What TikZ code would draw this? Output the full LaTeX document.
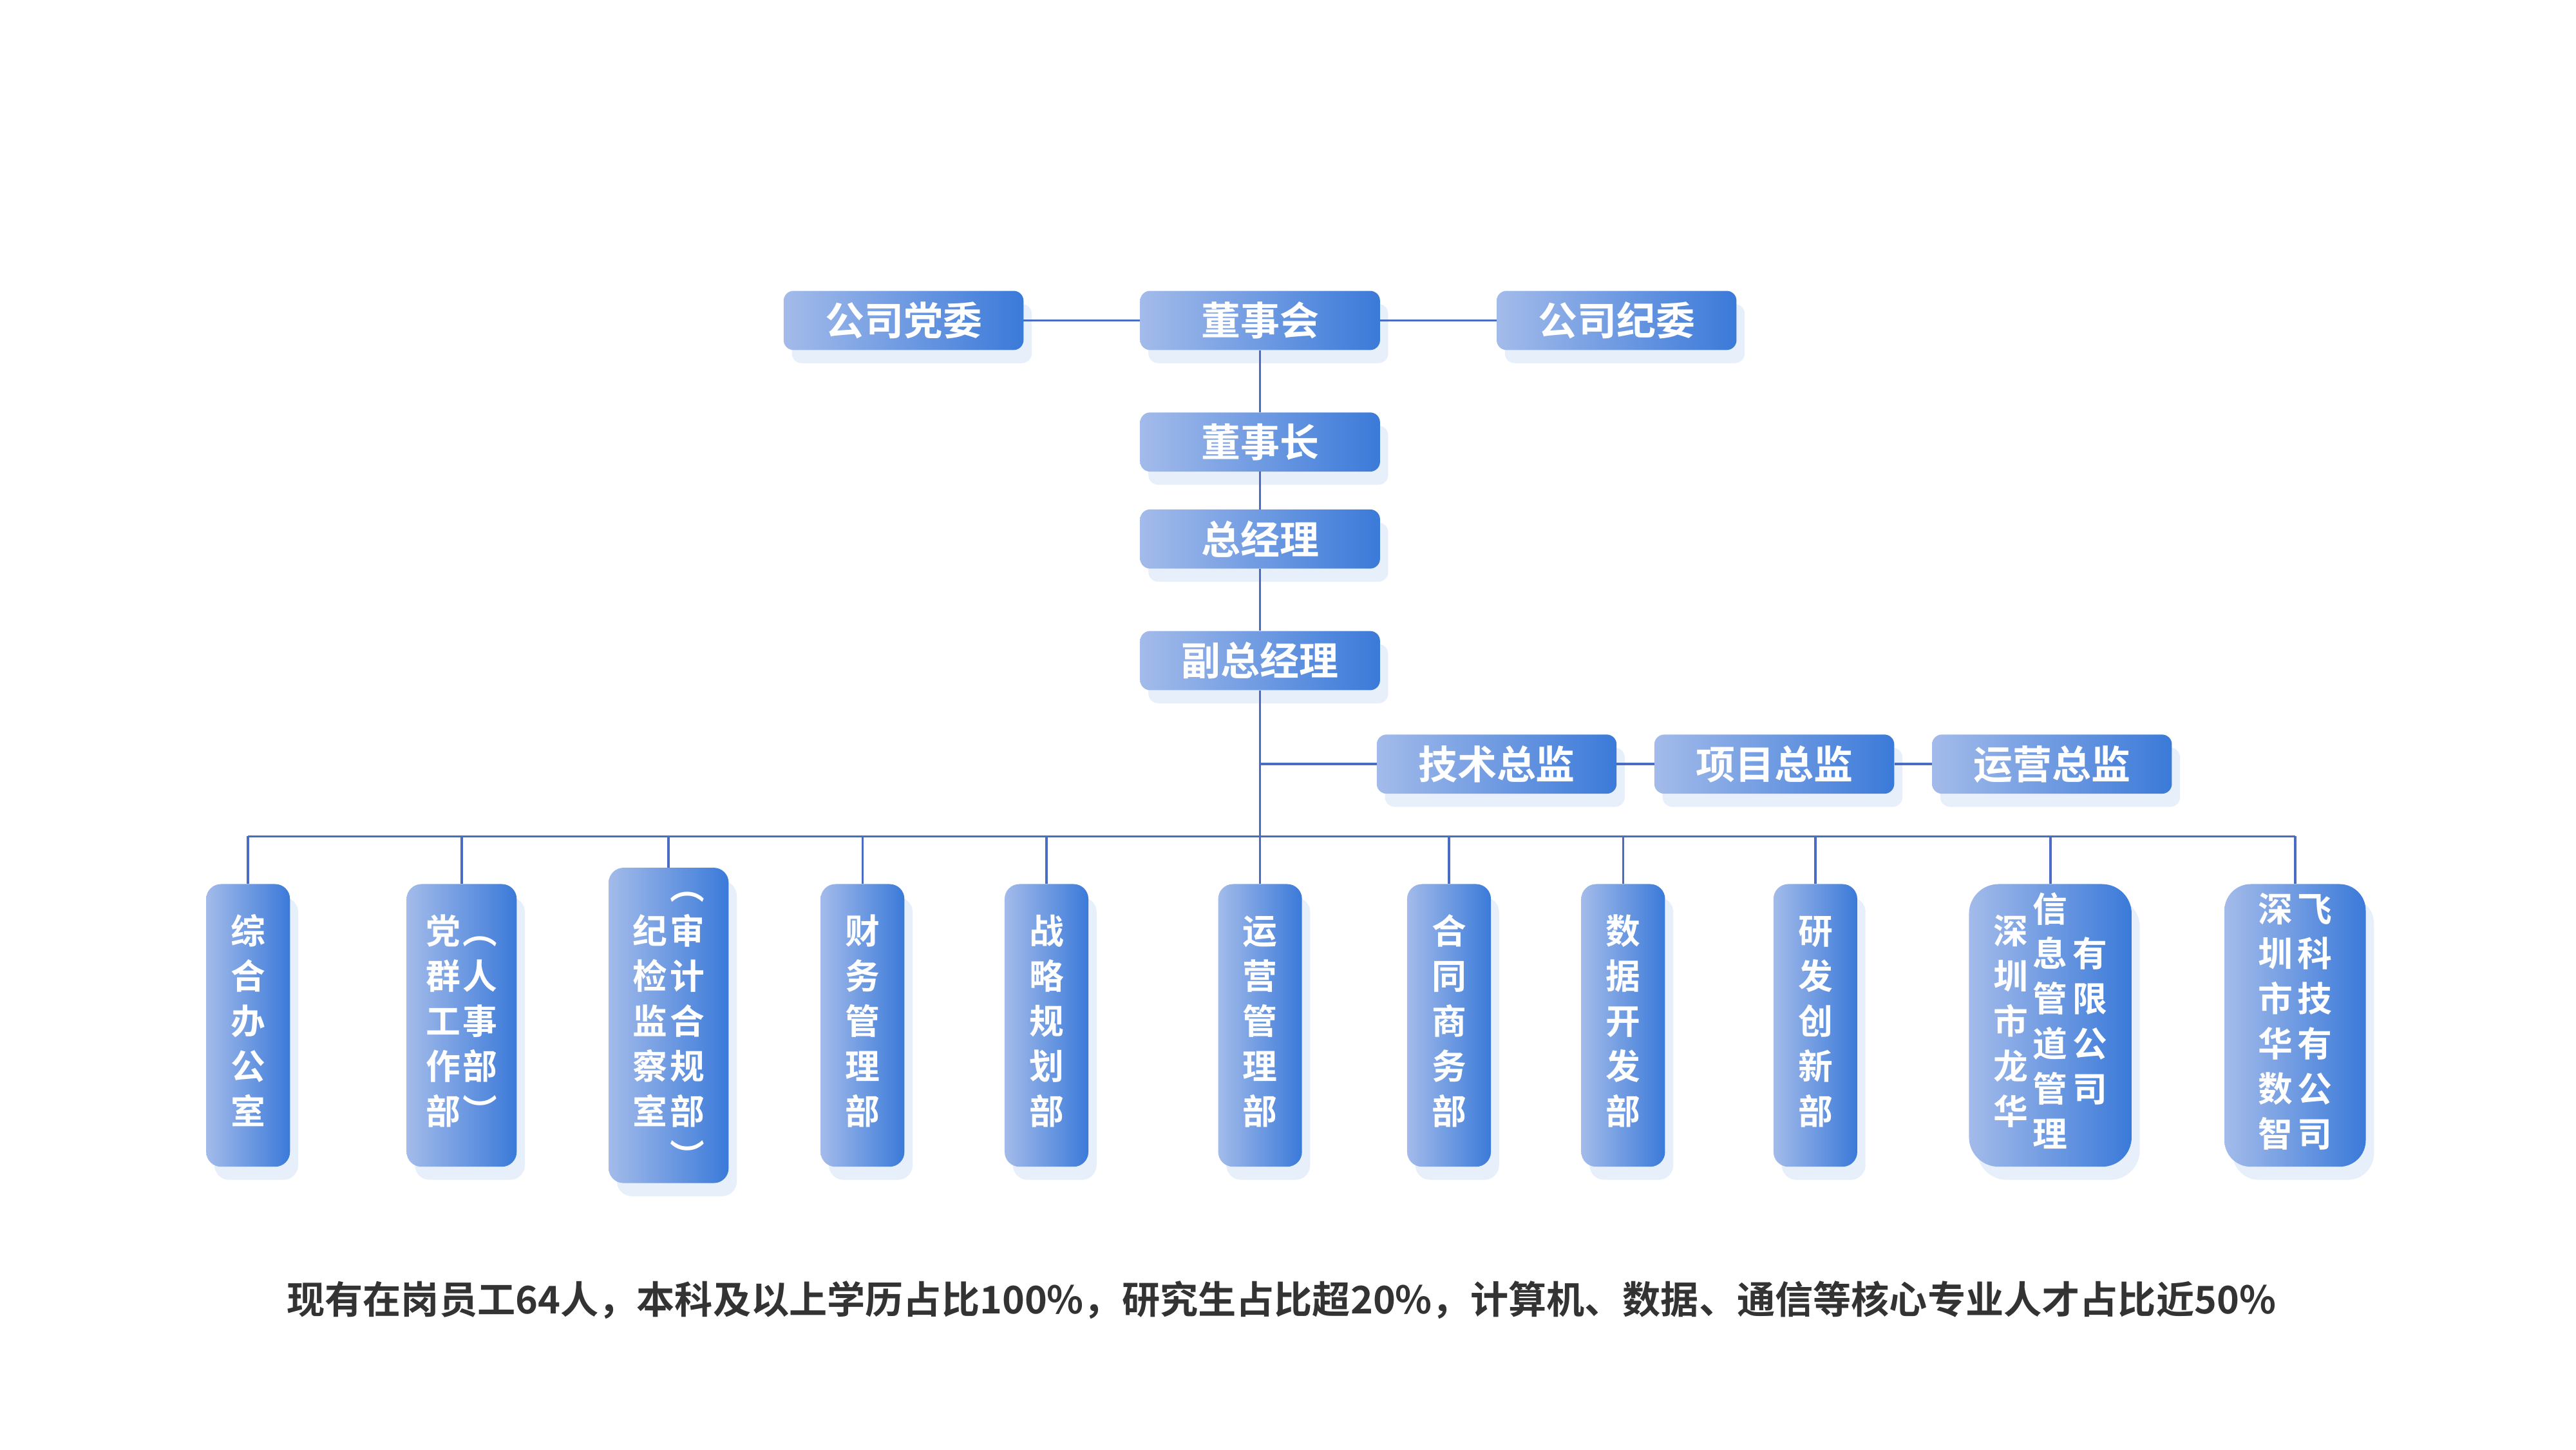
\documentclass[tikz,border=0pt]{standalone}
\usepackage{fontspec}
\setmainfont{Noto Sans CJK SC}[BoldFont={* Bold}]
\usetikzlibrary{positioning,shadows}
\definecolor{boxlight}{HTML}{A3BBEA}
\definecolor{boxdark}{HTML}{3B7AD9}
\definecolor{linkblue}{HTML}{4A6CC2}
\definecolor{foot}{HTML}{333333}
\newcommand{\vcol}[1]{\begin{tabular}[c]{@{}c@{}}#1\end{tabular}}
\tikzset{
  box/.style={draw=none, left color=boxlight, right color=boxdark, text=white,
    font=\bfseries\fontsize{68pt}{70pt}\selectfont, inner sep=0pt,
    drop shadow={shadow xshift=0.5cm, shadow yshift=-0.8cm, opacity=0.12, fill=boxdark}},
  topbox/.style={box, minimum width=14.6cm, minimum height=3.6cm, rounded corners=0.6cm},
  vbox/.style={box, minimum height=17.2cm, rounded corners=0.9cm,
    font=\bfseries\fontsize{60pt}{78pt}\selectfont},
  link/.style={draw=linkblue, line width=4pt}
}
\begin{document}
\begin{tikzpicture}[x=0.1cm, y=-0.1cm]
\useasboundingbox (0,0) rectangle (1568,882);
\renewcommand{\arraystretch}{1.0}

% top levels
\node[topbox] (dongshihui) at (767,195) {董事会};
\node[topbox] (dangwei) at (550,195) {公司党委};
\node[topbox] (jiwei) at (984,195) {公司纪委};
\node[topbox] (dsz) at (767,269) {董事长};
\node[topbox] (zjl) at (767,328) {总经理};
\node[topbox] (fzjl) at (767,402) {副总经理};

% directors
\node[topbox] (jszj) at (911,465) {技术总监};
\node[topbox] (xmzj) at (1080,465) {项目总监};
\node[topbox] (yyzj) at (1249,465) {运营总监};

% departments
\node[vbox, minimum width=5.1cm] (d1) at (151,624) {\vcol{综\\合\\办\\公\\室}};
\node[vbox, minimum width=6.7cm] (d2) at (281,624) {\vcol{党\\群\\工\\作\\部}\hspace{0.15cm}\vcol{︵\\人\\事\\部\\︶}};
\node[vbox, minimum width=7.3cm] (d3) at (407,624) {\vcol{纪\\检\\监\\察\\室}\hspace{0.15cm}\vcol{︵\\审\\计\\合\\规\\部\\︶}};
\node[vbox, minimum width=5.1cm] (d4) at (525,624) {\vcol{财\\务\\管\\理\\部}};
\node[vbox, minimum width=5.1cm] (d5) at (637,624) {\vcol{战\\略\\规\\划\\部}};
\node[vbox, minimum width=5.1cm] (d6) at (767,624) {\vcol{运\\营\\管\\理\\部}};
\node[vbox, minimum width=5.1cm] (d7) at (882,624) {\vcol{合\\同\\商\\务\\部}};
\node[vbox, minimum width=5.1cm] (d8) at (988,624) {\vcol{数\\据\\开\\发\\部}};
\node[vbox, minimum width=5.1cm] (d9) at (1105,624) {\vcol{研\\发\\创\\新\\部}};
\node[vbox, minimum width=9.9cm, rounded corners=1.8cm] (d10) at (1248,624) {\vcol{深\\圳\\市\\龙\\华}\hspace{0.3cm}\vcol{信\\息\\管\\道\\管\\理}\hspace{0.3cm}\vcol{有\\限\\公\\司}};
\node[vbox, minimum width=8.6cm, rounded corners=1.6cm] (d11) at (1397,624) {\vcol{深\\圳\\市\\华\\数\\智}\hspace{0.3cm}\vcol{飞\\科\\技\\有\\公\\司}};

% connectors
\coordinate (bus) at (767,509);
\draw[link] (dangwei) -- (dongshihui);
\draw[link] (dongshihui) -- (jiwei);
\draw[link] (dongshihui) -- (dsz);
\draw[link] (dsz) -- (zjl);
\draw[link] (zjl) -- (fzjl);
\draw[link] (fzjl.south) -- (bus);
\draw[link] (fzjl.south |- jszj.west) -- (jszj.west);
\draw[link] (jszj) -- (xmzj);
\draw[link] (xmzj) -- (yyzj);
\draw[link] (d1.north |- bus) -- (d11.north |- bus);
\foreach \d in {d1,d2,d3,d4,d5,d6,d7,d8,d9,d10,d11}
  \draw[link] (\d.north |- bus) -- (\d.north);

% footer
\node[text=foot, font=\bfseries\fontsize{66pt}{70pt}\selectfont] (note) at (780,791)
  {现有在岗员工64人，本科及以上学历占比100\%，研究生占比超20\%，计算机、数据、通信等核心专业人才占比近50\%};
\end{tikzpicture}
\end{document}
